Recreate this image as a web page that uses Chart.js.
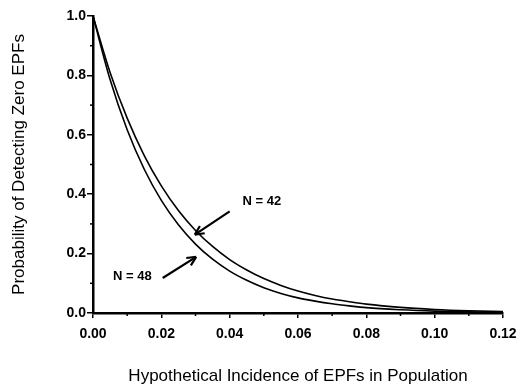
<!DOCTYPE html>
<html>
<head>
<meta charset="utf-8">
<script src="https://cdn.jsdelivr.net/npm/chart.js@4"></script>
<style>
  html, body { margin: 0; padding: 0; background: #fff; }
  #wrap { width: 520px; height: 387px; position: relative; }
</style>
</head>
<body>
<div id="wrap"><canvas id="c" width="520" height="387"></canvas></div>
<script>
// Incidence values (x) at which the curves were read
const incidence = [0, 0.005, 0.01, 0.015, 0.02, 0.025, 0.03, 0.035, 0.04, 0.045, 0.05, 0.055, 0.06, 0.065, 0.07, 0.075, 0.08, 0.09, 0.10, 0.11, 0.12];
// Probability of detecting zero EPFs, N = 42
const probN42 = [1.000, 0.810, 0.656, 0.530, 0.428, 0.345, 0.278, 0.224, 0.180, 0.145, 0.116, 0.093, 0.074, 0.059, 0.047, 0.038, 0.030, 0.019, 0.012, 0.0075, 0.0047];
// Probability of detecting zero EPFs, N = 48
const probN48 = [1.000, 0.786, 0.617, 0.484, 0.379, 0.297, 0.232, 0.181, 0.141, 0.110, 0.085, 0.066, 0.051, 0.040, 0.031, 0.024, 0.018, 0.011, 0.0064, 0.0037, 0.0022];
const seriesLabels = ['N = 42', 'N = 48'];
const xTicks = [0, 0.02, 0.04, 0.06, 0.08, 0.10, 0.12];
const yTicks = [0, 0.2, 0.4, 0.6, 0.8, 1.0];
const xMinor = [0.01, 0.03, 0.05, 0.07, 0.09, 0.11];
const yMinor = [0.1, 0.3, 0.5, 0.7, 0.9];
const xTitle = 'Hypothetical Incidence of EPFs in Population';
const yTitle = 'Probability of Detecting Zero EPFs';

const toPts = (ys) => incidence.map((x, i) => ({ x: x, y: ys[i] }));

const FONT = "'Liberation Sans', Arial, Helvetica, sans-serif";

// annotations (arrows anchored to data values through scales)
const annotations = [
  { text: seriesLabels[0], tx: 0.0494, ty: 0.375, from: [0.0400, 0.342], to: [0.0298, 0.264] },
  { text: seriesLabels[1], tx: 0.0115, ty: 0.122, from: [0.0204, 0.118], to: [0.0302, 0.189] }
];

const extras = {
  id: 'extras',
  afterDraw(chart) {
    const ctx = chart.ctx;
    const xs = chart.scales.x, ys = chart.scales.y;
    ctx.save();
    ctx.strokeStyle = '#000';
    ctx.lineWidth = 1.5;
    xMinor.forEach(v => {
      const px = xs.getPixelForValue(v);
      ctx.beginPath(); ctx.moveTo(px, ys.bottom); ctx.lineTo(px, ys.bottom + 3); ctx.stroke();
    });
    yMinor.forEach(v => {
      const py = ys.getPixelForValue(v);
      ctx.beginPath(); ctx.moveTo(xs.left, py); ctx.lineTo(xs.left - 3, py); ctx.stroke();
    });
    ctx.fillStyle = '#000';
    ctx.font = "bold 13px " + FONT;
    ctx.textAlign = 'center';
    ctx.textBaseline = 'middle';
    annotations.forEach(a => {
      ctx.fillText(a.text, xs.getPixelForValue(a.tx), ys.getPixelForValue(a.ty));
      const x1 = xs.getPixelForValue(a.from[0]), y1 = ys.getPixelForValue(a.from[1]);
      const x2 = xs.getPixelForValue(a.to[0]), y2 = ys.getPixelForValue(a.to[1]);
      ctx.lineWidth = 2.2;
      ctx.beginPath(); ctx.moveTo(x1, y1); ctx.lineTo(x2, y2); ctx.stroke();
      const ang = Math.atan2(y2 - y1, x2 - x1);
      const L = 10, W = 0.45;
      ctx.beginPath();
      ctx.moveTo(x2, y2);
      ctx.lineTo(x2 - L * Math.cos(ang - W), y2 - L * Math.sin(ang - W));
      ctx.moveTo(x2, y2);
      ctx.lineTo(x2 - L * Math.cos(ang + W), y2 - L * Math.sin(ang + W));
      ctx.stroke();
    });
    ctx.restore();
  }
};

const lineDs = (label, ys) => ({
  label: label,
  data: toPts(ys),
  borderColor: '#000',
  borderWidth: 1.6,
  pointRadius: 0,
  fill: false,
  cubicInterpolationMode: 'monotone'
});

new Chart(document.getElementById('c'), {
  type: 'line',
  data: { datasets: [lineDs(seriesLabels[0], probN42), lineDs(seriesLabels[1], probN48)] },
  options: {
    responsive: false,
    animation: false,
    layout: { padding: { top: 16, right: 17, left: 0, bottom: 0 } },
    plugins: { legend: { display: false }, tooltip: { enabled: false } },
    scales: {
      x: {
        type: 'linear',
        min: 0, max: 0.12,
        afterBuildTicks: (s) => { s.ticks = xTicks.map(v => ({ value: v })); },
        afterFit: (s) => { s.height = 74; s.paddingLeft = 0; s.paddingRight = 0; },
        border: { display: true, color: '#000', width: 2.5 },
        grid: { display: true, drawOnChartArea: false, drawTicks: true, tickLength: 5, color: '#000', lineWidth: 1.5 },
        ticks: {
          color: '#000', padding: 8, maxRotation: 0,
          font: { family: FONT, size: 14, weight: 'bold' },
          callback: (v) => Number(v).toFixed(2)
        },
        title: {
          display: true, text: xTitle, color: '#000',
          font: { family: FONT, size: 17 }, padding: { top: 0, bottom: 0 }
        }
      },
      y: {
        type: 'linear',
        min: 0, max: 1,
        afterBuildTicks: (s) => { s.ticks = yTicks.map(v => ({ value: v })); },
        afterFit: (s) => { s.width = 93; },
        border: { display: true, color: '#000', width: 2.5 },
        grid: { display: true, drawOnChartArea: false, drawTicks: true, tickLength: 6, color: '#000', lineWidth: 1.5 },
        ticks: {
          color: '#000', padding: 1,
          font: { family: FONT, size: 14, weight: 'bold' },
          callback: (v) => Number(v).toFixed(1)
        },
        title: {
          display: true, text: yTitle, color: '#000',
          font: { family: FONT, size: 17 }, padding: { top: 9, bottom: 0 }
        }
      }
    }
  },
  plugins: [extras]
});
</script>
</body>
</html>
